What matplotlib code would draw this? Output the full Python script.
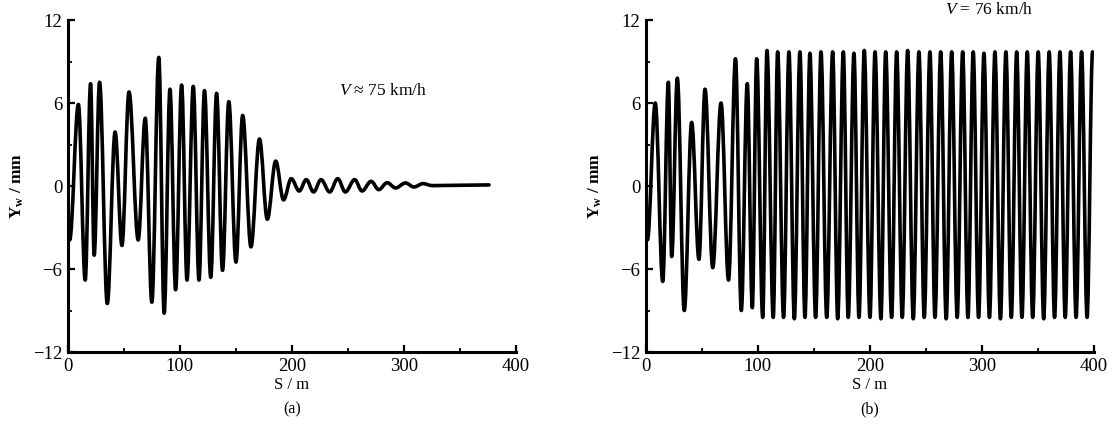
import matplotlib
matplotlib.use("Agg")
import matplotlib.pyplot as plt
from matplotlib.path import Path
from matplotlib.patches import PathPatch
from matplotlib.ticker import MultipleLocator

plt.rcParams['font.family'] = ['Liberation Serif', 'DejaVu Serif']
plt.rcParams['mathtext.fontset'] = 'custom'
plt.rcParams['mathtext.rm'] = 'Liberation Serif'
plt.rcParams['mathtext.it'] = 'Liberation Serif:italic'
plt.rcParams['mathtext.bf'] = 'Liberation Serif:bold'

# ---- data: extrema of the traces ----
left_s = [0, 1.5, 9.3, 15.4, 20.2, 23.4, 28.2, 35.1, 42.1, 48.2, 54.5, 62.7,
          69.0, 74.9, 81.1, 85.9, 91.1, 96.1, 101.5, 106.3, 111.9, 117.0,
          121.9, 127.5, 132.7, 138.0, 143.6, 150.0, 156.0, 163.4, 171.0,
          178.0, 185.5, 192.5, 199.4, 206.5, 212.8, 219.3, 226.0, 233.7,
          240.9, 247.7, 256.0, 262.6, 270.7, 277.5, 285.0, 292.5, 301.4,
          308.9, 317.0, 325.3, 376.0]
left_y = [-2.8, -3.9, 5.9, -6.8, 7.4, -5.0, 7.5, -8.5, 3.9, -4.3, 6.8, -3.9,
          4.9, -8.4, 9.3, -9.2, 7.0, -7.5, 7.3, -6.8, 7.2, -6.8,
          6.9, -6.6, 6.7, -6.1, 6.1, -5.5, 5.1, -4.4, 3.4,
          -2.4, 1.8, -1.0, 0.53, -0.36, 0.46, -0.43, 0.46, -0.43,
          0.53, -0.43, 0.46, -0.36, 0.34, -0.26, 0.24, -0.14, 0.22,
          -0.07, 0.17, 0.03, 0.08]

right_s = [0, 1.5, 8.5, 15.2, 20.2, 23.2, 28.2, 34.4, 41.0, 47.5, 52.9, 59.8,
           67.2, 73.9, 80.1, 85.3, 90.6, 95.1, 99.0, 104.4, 108.2, 113.8,
           117.7, 123.0, 127.8, 132.6, 137.6, 142.1, 146.5, 151.6, 156.4,
           161.5, 166.8, 171.3, 176.3, 180.7, 185.8, 190.3, 195.0, 200.1,
           204.6, 209.9, 214.1, 219.4, 223.9, 228.9, 233.7, 238.7, 243.8,
           248.5, 253.6, 258.1, 263.2, 268.1, 273.0, 277.9, 282.8, 287.5,
           292.2, 297.0, 301.8, 306.7, 311.6, 316.5, 321.4, 326.2, 331.0,
           335.7, 340.4, 345.3, 350.2, 355.1, 360.0, 364.8, 369.6, 374.3,
           379.1, 384.0, 388.9, 393.8, 398.7]
right_y = [-2.8, -3.9, 6.0, -6.9, 7.5, -5.1, 7.8, -9.0, 4.6, -5.3, 7.0, -5.9,
           6.0, -6.8, 9.2, -9.0, 7.4, -8.8, 9.2, -9.5, 9.8, -9.5,
           9.7, -9.5, 9.7, -9.6, 9.7, -9.5, 9.6, -9.5, 9.7,
           -9.5, 9.7, -9.6, 9.7, -9.5, 9.6, -9.5, 9.8, -9.5,
           9.7, -9.6, 9.7, -9.5, 9.7, -9.5, 9.8, -9.6, 9.7,
           -9.5, 9.7, -9.5, 9.7, -9.6, 9.7, -9.5, 9.7, -9.5,
           9.7, -9.5, 9.6, -9.5, 9.7, -9.6, 9.7, -9.5, 9.7,
           -9.5, 9.7, -9.5, 9.7, -9.6, 9.7, -9.5, 9.7, -9.5,
           9.7, -9.5, 9.7, -9.5, 9.7]

x_ticks = [0, 100, 200, 300, 400]
y_ticks = [-12, -6, 0, 6, 12]
labels = ["(a)", "(b)"]
speed_texts = ["$V$ \u2248 75 km/h", "$V$ = 76 km/h"]


def smooth_path(xs, ys, k=0.36):
    verts = [(xs[0], ys[0])]
    codes = [Path.MOVETO]
    for i in range(1, len(xs)):
        dx = xs[i] - xs[i - 1]
        verts += [(xs[i - 1] + k * dx, ys[i - 1]),
                  (xs[i] - k * dx, ys[i]),
                  (xs[i], ys[i])]
        codes += [Path.CURVE4] * 3
    return Path(verts, codes)


fig = plt.figure(figsize=(11.16, 4.41), dpi=100)
positions = [[0.0609, 0.2018, 0.4014, 0.7528],
             [0.5786, 0.2018, 0.4017, 0.7528]]
data = [(left_s, left_y), (right_s, right_y)]
text_pos = [(281, 6.9), (306, 12.7)]

for i, pos in enumerate(positions):
    ax = fig.add_axes(pos)
    xs, ys = data[i]
    patch = PathPatch(smooth_path(xs, ys), facecolor='none', edgecolor='black',
                      lw=2.6, capstyle='round', joinstyle='round')
    ax.add_patch(patch)
    ax.set_xlim(0, 400)
    ax.set_ylim(-12, 12)
    ax.set_xticks(x_ticks)
    ax.set_yticks(y_ticks)
    ax.xaxis.set_minor_locator(MultipleLocator(50))
    ax.yaxis.set_minor_locator(MultipleLocator(3))
    for side in ['top', 'right']:
        ax.spines[side].set_visible(False)
    for side in ['left', 'bottom']:
        ax.spines[side].set_linewidth(2.2)
    ax.tick_params(which='major', direction='in', length=5, width=1.6,
                   labelsize=13.5, pad=4)
    ax.tick_params(which='minor', direction='in', length=3, width=1.3)
    ax.set_xlabel("S / m", fontsize=12, labelpad=2)
    ax.set_ylabel("Y$_{\\mathbf{w}}$ / mm", fontsize=12.5, fontweight='bold',
                  labelpad=5)
    ax.text(text_pos[i][0], text_pos[i][1], speed_texts[i], fontsize=12.5,
            ha='center', va='center', clip_on=False)
    ax.text(0.5, -0.15, labels[i], transform=ax.transAxes, fontsize=11.5,
            ha='center', va='top')

fig.savefig("out.png", dpi=100)
